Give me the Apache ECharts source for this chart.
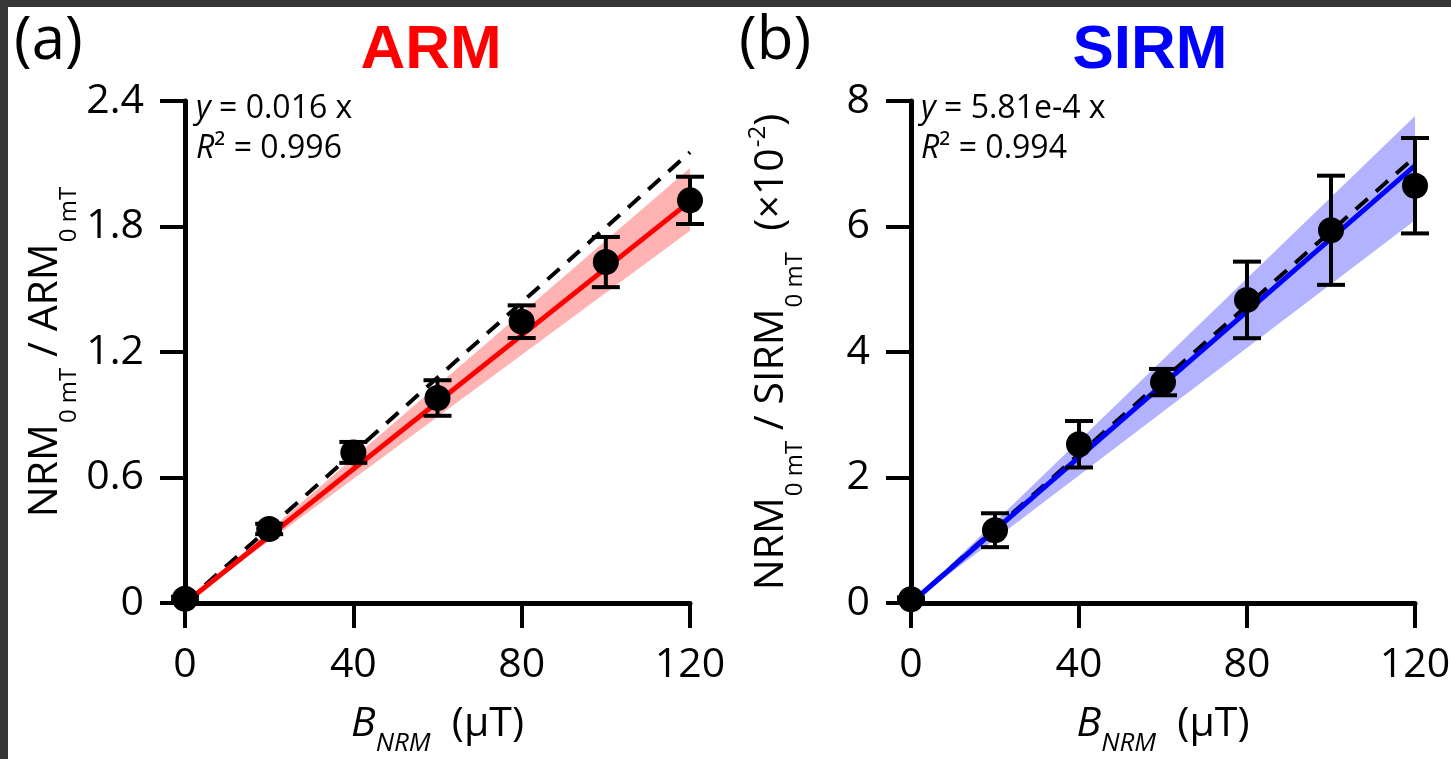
<!DOCTYPE html>
<html>
<head>
<meta charset="utf-8">
<script src="https://cdn.jsdelivr.net/npm/echarts@6/dist/echarts.min.js"></script>
<style>
html, body { margin: 0; padding: 0; background: #fff; }
#main { width: 1451px; height: 759px; }
</style>
</head>
<body>
<div id="main"></div>
<script>
var FONT = '"Open Sans", sans-serif';

// applied field (uT)
var bField = [0, 20, 40, 60, 80, 100, 120];
var fitX = [0, 120];

// (a) NRM / ARM
var armRatio = [0.02, 0.354, 0.72, 0.98, 1.345, 1.63, 1.925];
var armErr = [0.01, 0.025, 0.05, 0.085, 0.078, 0.12, 0.113];
var armFit = [0, 1.92];      // y = 0.016 x
var armRef = [0, 2.155];     // dashed reference
var armBandLo = [0, 1.78];
var armBandHi = [0, 2.08];

// (b) NRM / SIRM  (x10^-2)
var sirmRatio = [0.06, 1.16, 2.53, 3.52, 4.83, 5.94, 6.65];
var sirmErr = [0.03, 0.27, 0.37, 0.21, 0.61, 0.87, 0.76];
var sirmFit = [0, 6.97];     // y = 5.81e-4 x
var sirmRef = [0, 7.11];
var sirmBandLo = [0, 6.1];
var sirmBandHi = [0, 7.76];

var chart = echarts.init(document.getElementById('main'));

function pairs(xs, ys) {
    return xs.map(function (x, i) { return [x, ys[i]]; });
}

function bandSeries(idx, lo, hi, color) {
    return {
        type: 'custom', xAxisIndex: idx, yAxisIndex: idx, z: 1, silent: true,
        data: [[0, 0]],
        renderItem: function (params, api) {
            var pts = [];
            for (var i = 0; i < fitX.length; i++) pts.push(api.coord([fitX[i], hi[i]]));
            for (var j = fitX.length - 1; j >= 0; j--) pts.push(api.coord([fitX[j], lo[j]]));
            return { type: 'polygon', shape: { points: pts }, style: { fill: color } };
        }
    };
}

function errSeries(idx, ys, errs) {
    return {
        type: 'custom', xAxisIndex: idx, yAxisIndex: idx, z: 4, silent: true,
        data: bField.map(function (x, i) { return [x, ys[i], errs[i]]; }),
        renderItem: function (params, api) {
            var x = api.value(0), y = api.value(1), e = api.value(2);
            var t = api.coord([x, y + e]), b = api.coord([x, y - e]);
            var w = 14, st = { stroke: '#000', lineWidth: 4 };
            return {
                type: 'group', children: [
                    { type: 'line', shape: { x1: t[0], y1: t[1], x2: b[0], y2: b[1] }, style: st },
                    { type: 'line', shape: { x1: t[0] - w, y1: t[1], x2: t[0] + w, y2: t[1] }, style: st },
                    { type: 'line', shape: { x1: b[0] - w, y1: b[1], x2: b[0] + w, y2: b[1] }, style: st }
                ]
            };
        }
    };
}

function lineSeries(idx, ys, color, width, dash, z) {
    return {
        type: 'line', xAxisIndex: idx, yAxisIndex: idx, z: z, silent: true,
        data: pairs(fitX, ys), symbol: 'none',
        lineStyle: { color: color, width: width, type: dash }
    };
}

function pointSeries(idx, ys) {
    return {
        type: 'scatter', xAxisIndex: idx, yAxisIndex: idx, z: 5,
        data: pairs(bField, ys), symbol: 'circle', symbolSize: 26,
        itemStyle: { color: '#000', opacity: 1 }
    };
}

var axisLine = { show: true, onZero: false, lineStyle: { color: '#000', width: 5 } };
var axisTick = { show: true, length: 25, lineStyle: { color: '#000', width: 4 } };

var mainTxt = { fontSize: 41, fontFamily: FONT, color: '#000', verticalAlign: 'middle' };
var subTxt = { fontSize: 24, fontFamily: FONT, color: '#000', verticalAlign: 'middle', padding: [48, 0, 0, 1] };
var supTxt = { fontSize: 24, fontFamily: FONT, color: '#000', verticalAlign: 'middle', padding: [0, 0, 26, 1] };

function xAxisCfg(idx) {
    return {
        type: 'value', gridIndex: idx, min: 0, max: 120, interval: 40,
        axisLine: axisLine, axisTick: axisTick, splitLine: { show: false },
        axisLabel: { fontSize: 41, fontFamily: FONT, color: '#000', margin: 42 },
        name: '{bi|B}{si|NRM}{m|  (μT)}',
        nameLocation: 'middle', nameGap: 88, nameMoveOverlap: false,
        nameTextStyle: {
            rich: {
                m: mainTxt,
                bi: { fontSize: 41, fontFamily: FONT, color: '#000', fontStyle: 'italic', verticalAlign: 'middle' },
                si: { fontSize: 26, fontFamily: FONT, color: '#000', fontStyle: 'italic', verticalAlign: 'middle', padding: [40, 0, 0, 0] }
            }
        }
    };
}

function yAxisCfg(idx, max, interval, name, fmt) {
    return {
        type: 'value', gridIndex: idx, min: 0, max: max, interval: interval,
        axisLine: axisLine, axisTick: axisTick, splitLine: { show: false },
        axisLabel: { fontSize: 41, fontFamily: FONT, color: '#000', margin: 41, formatter: fmt },
        name: name, nameLocation: 'middle', nameRotate: 90, nameGap: 104, nameMoveOverlap: false,
        nameTextStyle: { rich: { m: mainTxt, s: subTxt, p: supTxt } }
    };
}

function txt(x, y, text, size, extra) {
    var st = {
        text: text, x: 0, y: 0, fontSize: size, fontFamily: FONT, fill: '#000',
        textAlign: 'left', textVerticalAlign: 'middle',
        rich: {
            i: { fontSize: size, fontFamily: FONT, fill: '#000', fontStyle: 'italic' }
        }
    };
    if (extra) for (var k in extra) st[k] = extra[k];
    return { type: 'text', x: x, y: y, z: 10, style: st };
}

var option = {
    animation: false,
    backgroundColor: '#fff',
    grid: [
        { left: 185, top: 101, width: 505, height: 502, outerBoundsMode: 'none' },
        { left: 911, top: 101, width: 504, height: 502, outerBoundsMode: 'none' }
    ],
    xAxis: [xAxisCfg(0), xAxisCfg(1)],
    yAxis: [
        yAxisCfg(0, 2.4, 0.6, '{m|NRM}{s|0 mT}{m| / ARM}{s|0 mT}',
            function (v) { return v === 0 ? '0' : v.toFixed(1); }),
        yAxisCfg(1, 8, 2, '{m|NRM}{s|0 mT}{m| / SIRM}{s|0 mT}{m|  (×10}{p|-2}{m|)}',
            function (v) { return String(v); })
    ],
    graphic: [
        { type: 'rect', shape: { x: 0, y: 0, width: 1451, height: 7 }, style: { fill: '#363636' }, z: 20 },
        { type: 'rect', shape: { x: 0, y: 0, width: 8, height: 759 }, style: { fill: '#363636' }, z: 20 },
        txt(14, 42, '(a)', 60),
        txt(739, 42, '(b)', 60),
        txt(431, 51, 'ARM', 62, { textAlign: 'center', fontWeight: 'bold', fontFamily: '"Liberation Sans", Arial, sans-serif', fill: '#ff0000' }),
        txt(1150, 51, 'SIRM', 62, { textAlign: 'center', fontWeight: 'bold', fontFamily: '"Liberation Sans", Arial, sans-serif', fill: '#0000ff' }),
        txt(196, 109, '{i|y} = 0.016 x', 32),
        txt(196, 149, '{i|R}² = 0.996', 32),
        txt(921, 109, '{i|y} = 5.81e-4 x', 32),
        txt(921, 149, '{i|R}² = 0.994', 32)
    ],
    series: [
        bandSeries(0, armBandLo, armBandHi, 'rgba(255,0,0,0.3)'),
        lineSeries(0, armRef, '#000', 4, [16, 11], 2),
        lineSeries(0, armFit, '#ff0000', 5, 'solid', 3),
        errSeries(0, armRatio, armErr),
        pointSeries(0, armRatio),

        bandSeries(1, sirmBandLo, sirmBandHi, 'rgba(0,0,255,0.3)'),
        lineSeries(1, sirmRef, '#000', 4, [16, 11], 2),
        lineSeries(1, sirmFit, '#0000ff', 5, 'solid', 3),
        errSeries(1, sirmRatio, sirmErr),
        pointSeries(1, sirmRatio)
    ]
};

chart.setOption(option);
</script>
</body>
</html>
